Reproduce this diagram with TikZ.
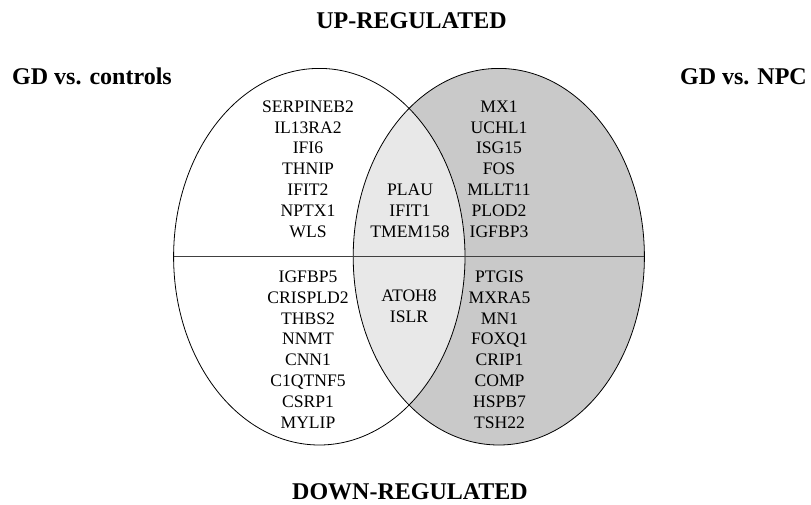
\documentclass[tikz,border=0pt]{standalone}
\usepackage{fontspec}
\setmainfont{Liberation Serif}
\begin{document}
\begin{tikzpicture}[x=1pt,y=-1pt,
  gene/.style={align=center,anchor=base,inner sep=0pt,font=\fontsize{17.6}{20.9}\selectfont},
  head/.style={anchor=base,inner sep=0pt,font=\fontsize{24}{28}\selectfont\bfseries},
  outline/.style={draw=black,line width=0.8pt}]
\useasboundingbox (0,0) rectangle (811,504);
% fills
\fill[gray!42] (498.8,256.7) ellipse [x radius=145.6, y radius=188.3];
\begin{scope}
  \clip (319.3,256.7) ellipse [x radius=145.7, y radius=188.3];
  \fill[gray!18] (498.8,256.7) ellipse [x radius=145.6, y radius=188.3];
\end{scope}
% outlines
\draw[outline] (319.3,256.7) ellipse [x radius=145.7, y radius=188.3];
\draw[outline] (498.8,256.7) ellipse [x radius=145.6, y radius=188.3];
\coordinate (lineL) at (173.6,256.7);
\coordinate (lineR) at (644.4,256.7);
\draw[line width=1.3pt,black!75] (lineL) -- (lineR);
% headings
\node[head] (up) at (411.5,28.5) {UP-REGULATED};
\node[head] (down) at (410,499) {DOWN-REGULATED};
\node[head,anchor=base west] (gdc) at (12,84) {GD vs. controls};
\node[head,anchor=base east] (gdn) at (807,84) {GD vs. NPC};
% gene lists (anchor = baseline of last line)
\node[gene] (ul) at (308,237.5) {SERPINEB2\\IL13RA2\\IFI6\\THNIP\\IFIT2\\NPTX1\\WLS};
\node[gene] (um) at (410,237.5) {PLAU\\IFIT1\\TMEM158};
\node[gene] (ur) at (499,237.5) {MX1\\UCHL1\\ISG15\\FOS\\MLLT11\\PLOD2\\IGFBP3};
\node[gene] (ll) at (308,428.5) {IGFBP5\\CRISPLD2\\THBS2\\NNMT\\CNN1\\C1QTNF5\\CSRP1\\MYLIP};
\node[gene] (lm) at (409,322.5) {ATOH8\\ISLR};
\node[gene] (lr) at (499.5,428.5) {PTGIS\\MXRA5\\MN1\\FOXQ1\\CRIP1\\COMP\\HSPB7\\TSH22};
\end{tikzpicture}
\end{document}
